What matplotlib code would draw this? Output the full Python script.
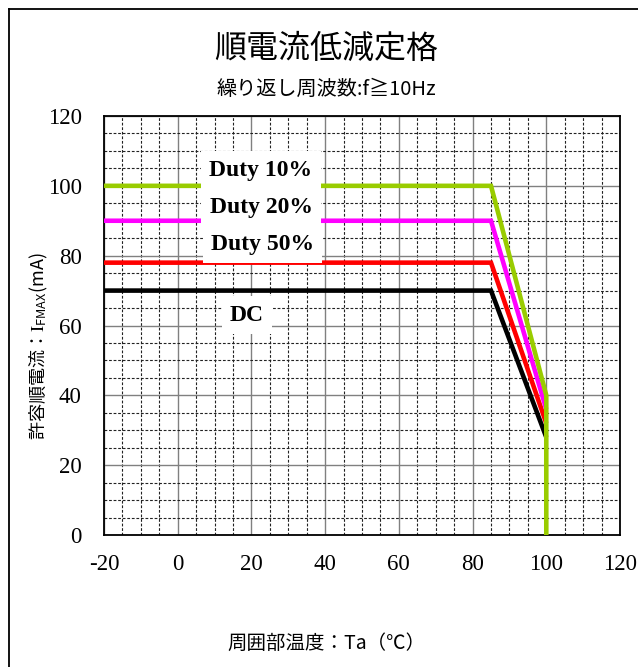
import matplotlib
matplotlib.use("Agg")
import matplotlib.pyplot as plt
from matplotlib.ticker import MultipleLocator
from matplotlib.lines import Line2D

# ---- data ----
series_names = ["DC", "Duty 50%", "Duty 20%", "Duty 10%"]
series_x = [
    [-20, 85, 100],
    [-20, 85, 100],
    [-20, 85, 100],
    [-20, 85, 100, 100],
]
series_y = [
    [70, 70, 28],
    [78, 78, 32],
    [90, 90, 36],
    [100, 100, 40, 0],
]
series_colors = ["#000000", "#FF0000", "#FF00FF", "#99CC00"]
label_pos = {"Duty 10%": (22.6, 104.5), "Duty 20%": (22.6, 93.9),
             "Duty 50%": (23.0, 83.2), "DC": (18.8, 63.0)}
x_ticks = [-20, 0, 20, 40, 60, 80, 100, 120]
y_ticks = [0, 20, 40, 60, 80, 100, 120]

title = "順電流低減定格"
subtitle = "繰り返し周波数:f≧10Hz"
xlabel = "周囲部温度：Ta（℃）"
ylabel = r"許容順電流：$\mathrm{I}_{\mathregular{FMAX}}$(mA)"

plt.rcParams["mathtext.fontset"] = "stix"
plt.rcParams["axes.unicode_minus"] = False
cjk = ["Noto Sans CJK JP", "DejaVu Sans"]
serif = "Liberation Serif"

fig = plt.figure(figsize=(6.38, 6.67), dpi=100)
ax = fig.add_axes([104 / 638, 1 - 535 / 667, 516 / 638, 419 / 667])

ax.set_xlim(-20, 120)
ax.set_ylim(0, 120)
ax.set_xticks(x_ticks)
ax.set_yticks(y_ticks)
ax.xaxis.set_minor_locator(MultipleLocator(5))
ax.yaxis.set_minor_locator(MultipleLocator(5))
ax.grid(which="major", color="#808080", linewidth=1.0, linestyle="-")
ax.grid(which="minor", color="#222222", linewidth=0.8, linestyle=(0, (2.5, 1.6)))
ax.set_axisbelow(True)
ax.tick_params(which="both", length=0)
ax.tick_params(axis="x", pad=14)
ax.tick_params(axis="y", pad=16)
for lab in ax.get_xticklabels() + ax.get_yticklabels():
    lab.set_fontfamily(serif)
    lab.set_fontsize(16.5)
for sp in ax.spines.values():
    sp.set_color("#000000")
    sp.set_linewidth(1.3)

for xs, ys, c in zip(series_x, series_y, series_colors):
    ax.plot(xs, ys, color=c, linewidth=3.3, solid_joinstyle="miter",
            solid_capstyle="butt", clip_on=False, zorder=3)

for name in series_names:
    x, y = label_pos[name]
    ax.text(x, y, name, fontfamily=serif, fontweight="bold", fontsize=17,
            ha="center", va="center", zorder=4,
            bbox=dict(boxstyle="square,pad=0.35", facecolor="white", edgecolor="none"))

fig.text(326 / 638, 1 - 49 / 667, title, family=cjk, fontsize=23, ha="center", va="center")
fig.text(326 / 638, 1 - 89 / 667, subtitle, family=cjk, fontsize=14.5, ha="center", va="center")
fig.text(326 / 638, 1 - 643 / 667, xlabel, family=cjk, fontsize=14, ha="center", va="center")
fig.text(39 / 638, 1 - 346 / 667, ylabel, family="Noto Sans CJK JP", fontsize=13,
         ha="center", va="center", rotation=90)

# outer frame (left and top edges visible)
fig.add_artist(Line2D([8.5 / 638, 8.5 / 638], [0, 1 - 9 / 667], color="#000000",
                      linewidth=1.3, transform=fig.transFigure))
fig.add_artist(Line2D([8.5 / 638, 1], [1 - 9 / 667, 1 - 9 / 667], color="#000000",
                      linewidth=1.3, transform=fig.transFigure))

fig.savefig("out.png", dpi=100)
